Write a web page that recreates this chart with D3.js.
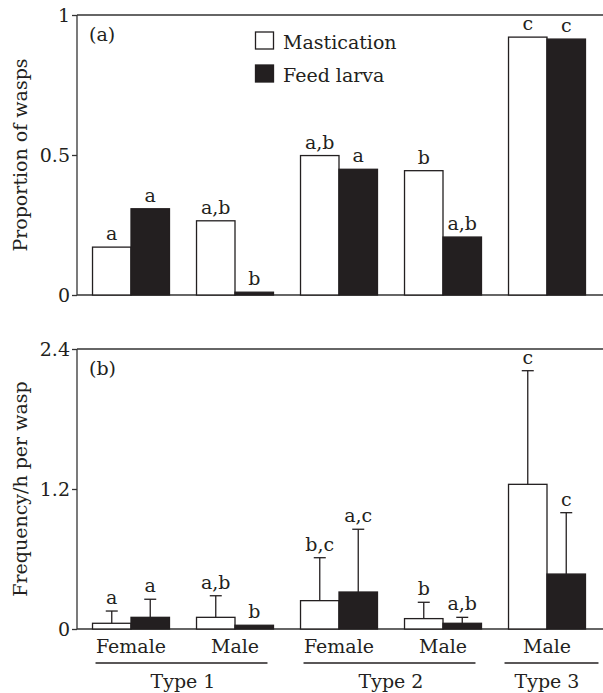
<!DOCTYPE html>
<html><head><meta charset="utf-8">
<script src="https://cdn.jsdelivr.net/npm/d3@7"></script>
<style>
body{margin:0;background:#fff;}
svg{display:block;}
text{font-family:"DejaVu Serif",serif;fill:#231f20;}
</style></head>
<body><svg id="chart" width="603" height="693"></svg>
<script>
// ---- data ----
const groups = ["T1F","T1M","T2F","T2M","T3M"];
const sexLabels = ["Female","Male","Female","Male","Male"];
const typeNames = ["Type 1","Type 2","Type 3"];
const typeOfGroup = ["Type 1","Type 1","Type 2","Type 2","Type 3"];
const series = ["Mastication","Feed larva"];

const propMastication = [0.171, 0.265, 0.498, 0.444, 0.921];
const propFeed        = [0.308, 0.010, 0.449, 0.207, 0.914];
const propLetM = ["a","a,b","a,b","b","c"];
const propLetF = ["a","b","a","a,b","c"];

const freqMastication = [0.049, 0.100, 0.243, 0.089, 1.240];
const freqMastErrTop  = [0.154, 0.285, 0.611, 0.229, 2.214];
const freqFeed        = [0.100, 0.032, 0.317, 0.049, 0.471];
const freqFeedErrTop  = [0.255, null,  0.855, 0.100, 0.997];
const freqLetM = ["a","a,b","b,c","b","c"];
const freqLetF = ["a","b","a,c","a,b","c"];

const propTicks = [0, 0.5, 1];
const propTickLabels = ["0","0.5","1"];
const freqTicks = [0, 1.2, 2.4];
const freqTickLabels = ["0","1.2","2.4"];

// ---- layout ----
const svg = d3.select("#chart");
const W = 603;
const axisX = 77;
const ink = "#231f20", lineCol = "#333";
const FS = 19;

const x = d3.scaleBand().domain(groups).range([79, 599]).paddingInner(0.26).paddingOuter(0.13);
const xs = d3.scaleBand().domain(series).range([0, x.bandwidth()]);

function panel(opts){
  const {top, bottom, max, ticks, tickLabels, vM, vF, errM, errF, letM, letF, title, tag} = opts;
  const y = d3.scaleLinear().domain([0, max]).range([bottom, top]);
  const g = svg.append("g");
  // top border
  g.append("line").attr("x1", axisX).attr("x2", W).attr("y1", top).attr("y2", top)
    .attr("stroke", lineCol).attr("stroke-width", 1.3);
  // y axis
  const ax = g.append("g").attr("transform", `translate(${axisX},0)`)
    .call(d3.axisLeft(y).tickValues(ticks).tickFormat((d,i)=>tickLabels[i]).tickSize(5).tickPadding(2));
  ax.select(".domain").attr("stroke", lineCol).attr("stroke-width", 1.3).attr("d", `M0,${top}V${bottom}`);
  ax.selectAll(".tick line").attr("stroke", lineCol).attr("stroke-width", 1.3);
  ax.selectAll(".tick text").attr("font-size", FS).attr("font-family", "DejaVu Serif").attr("fill", ink);
  // x baseline
  g.append("line").attr("x1", axisX).attr("x2", W).attr("y1", bottom).attr("y2", bottom)
    .attr("stroke", lineCol).attr("stroke-width", 1.3);

  const data = [];
  groups.forEach((gr,i)=>{
    data.push({g:gr, s:series[0], v:vM[i], e:errM?errM[i]:null, l:letM[i]});
    data.push({g:gr, s:series[1], v:vF[i], e:errF?errF[i]:null, l:letF[i]});
  });
  const bx = d => x(d.g) + xs(d.s);
  g.selectAll("rect.bar").data(data).enter().append("rect")
    .attr("x", bx).attr("width", xs.bandwidth())
    .attr("y", d=>y(d.v)).attr("height", d=>y(0)-y(d.v))
    .attr("fill", d=>d.s===series[0] ? "#fff" : ink)
    .attr("stroke", ink).attr("stroke-width", 1.3);
  const withErr = data.filter(d=>d.e!=null);
  const cx = d => bx(d) + xs.bandwidth()/2;
  g.selectAll("line.err").data(withErr).enter().append("line")
    .attr("x1", cx).attr("x2", cx).attr("y1", d=>y(d.v)).attr("y2", d=>y(d.e))
    .attr("stroke", ink).attr("stroke-width", 1.3);
  g.selectAll("line.cap").data(withErr).enter().append("line")
    .attr("x1", d=>cx(d)-6).attr("x2", d=>cx(d)+6).attr("y1", d=>y(d.e)).attr("y2", d=>y(d.e))
    .attr("stroke", ink).attr("stroke-width", 1.3);
  g.selectAll("text.let").data(data).enter().append("text")
    .attr("x", cx).attr("y", d=>y(d.e!=null ? d.e : d.v) - 7)
    .attr("text-anchor", "middle").attr("font-size", FS).text(d=>d.l);
  // axis title
  g.append("text").attr("transform", `translate(27,${(top+bottom)/2}) rotate(-90)`)
    .attr("text-anchor", "middle").attr("font-size", FS).text(title);
  g.append("text").attr("x", 89).attr("y", top+26).attr("font-size", FS).text(tag);
}

panel({top:15, bottom:295, max:1, ticks:propTicks, tickLabels:propTickLabels,
  vM:propMastication, vF:propFeed, errM:null, errF:null, letM:propLetM, letF:propLetF,
  title:"Proportion of wasps", tag:"(a)"});
panel({top:349, bottom:629, max:2.4, ticks:freqTicks, tickLabels:freqTickLabels,
  vM:freqMastication, vF:freqFeed, errM:freqMastErrTop, errF:freqFeedErrTop, letM:freqLetM, letF:freqLetF,
  title:"Frequency/h per wasp", tag:"(b)"});

// legend
const leg = svg.append("g");
series.forEach((s,i)=>{
  leg.append("rect").attr("x", 255.5).attr("y", 32 + i*33).attr("width", 18).attr("height", 17)
    .attr("fill", i===0 ? "#fff" : ink).attr("stroke", ink).attr("stroke-width", 1.3);
  leg.append("text").attr("x", 283).attr("y", 49 + i*33).attr("font-size", FS).text(s);
});

// x category labels
svg.selectAll("text.sex").data(groups).enter().append("text")
  .attr("x", d=>x(d)+x.bandwidth()/2).attr("y", 653).attr("text-anchor","middle")
  .attr("font-size", FS).text((d,i)=>sexLabels[i]);
typeNames.forEach(t=>{
  const gs = groups.filter((g,i)=>typeOfGroup[i]===t);
  const multi = gs.length > 1;
  const x0 = x(gs[0]) + (multi ? 3 : -4);
  const x1 = x(gs[gs.length-1]) + x.bandwidth() + (multi ? -6 : 13);
  svg.append("line").attr("x1", x0).attr("x2", x1).attr("y1", 663).attr("y2", 663)
    .attr("stroke", ink).attr("stroke-width", 1.3);
  const c = (x(gs[0]) + x(gs[gs.length-1]) + x.bandwidth())/2;
  svg.append("text").attr("x", c).attr("y", 688).attr("text-anchor","middle")
    .attr("font-size", FS).text(t);
});
</script></body></html>
